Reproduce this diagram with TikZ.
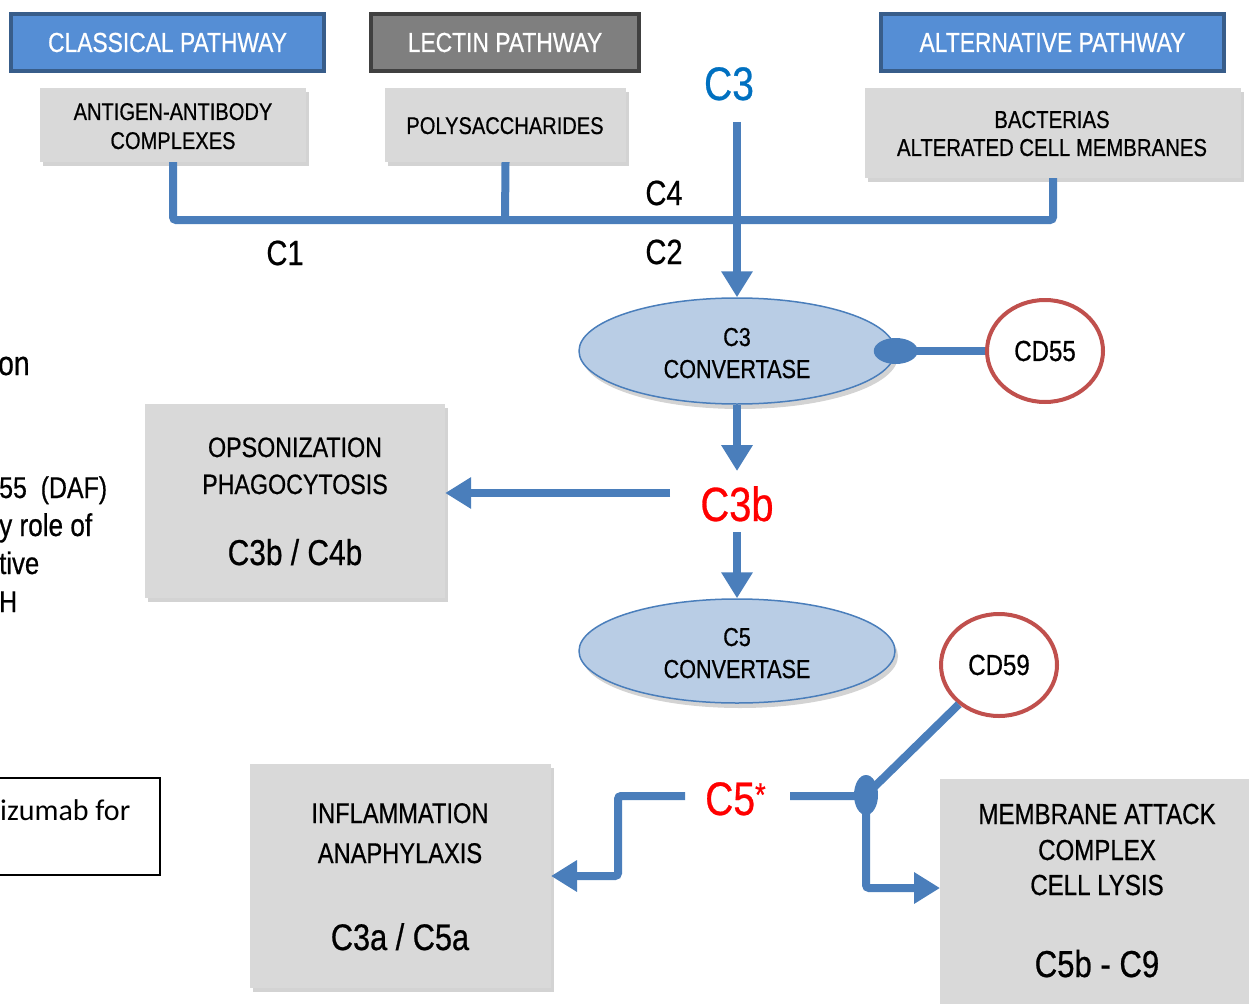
\documentclass[tikz,border=0pt]{standalone}
\usepackage{fontspec}
\setmainfont{Liberation Sans}[FakeStretch=0.83, UprightFeatures={FakeBold=0.6}]
\newfontfamily\calibfont{Carlito}
\usetikzlibrary{arrows.meta,shapes.geometric,shadows,calc}
\definecolor{bl}{HTML}{4A7EBB}
\definecolor{pbfill}{HTML}{558ED5}
\definecolor{pbdraw}{HTML}{385D8A}
\definecolor{lgfill}{HTML}{7F7F7F}
\definecolor{lgdraw}{HTML}{404040}
\definecolor{gfill}{HTML}{D9D9D9}
\definecolor{efill}{HTML}{B9CDE5}
\definecolor{redc}{HTML}{C0504D}
\definecolor{c3blue}{HTML}{0070C0}
\newcommand\fsz[1]{\fontsize{#1}{#1}\selectfont}
\begin{document}
\begin{tikzpicture}[x=1pt,y=-1pt,
 bline/.style={draw=bl, line width=8pt, rounded corners=3pt},
 arr/.style={bline, -{Triangle[width=30pt,length=26pt]}},
 pathbox/.style={rectangle, line width=4pt, minimum height=57pt, text=white, font=\fsz{27.5}, inner sep=0pt},
 greybox/.style={rectangle, fill=gfill, inner sep=0pt, drop shadow={shadow xshift=3pt, shadow yshift=-4pt, opacity=0.35}},
 conv/.style={ellipse, fill=efill, draw=bl, line width=1.5pt, minimum width=316pt, minimum height=106pt, inner sep=0pt, drop shadow={shadow xshift=3pt,shadow yshift=-5pt,opacity=0.35}},
 inhib/.style={ellipse, draw=redc, line width=4pt, fill=white, minimum width=116pt, minimum height=102pt, inner sep=0pt, font=\fsz{29}},
 txt/.style={anchor=base, inner sep=0pt},
]
\useasboundingbox (0,0) rectangle (1249,1003);
\clip (0,0) rectangle (1249,1003);

% pathway headers
\node[pathbox, fill=pbfill, draw=pbdraw, minimum width=313pt] (classical) at (167.5,42.5) {CLASSICAL PATHWAY};
\node[pathbox, fill=lgfill, draw=lgdraw, minimum width=268pt] (lectin) at (505,42.5) {LECTIN PATHWAY};
\node[pathbox, fill=pbfill, draw=pbdraw, minimum width=343pt] (alternative) at (1052.5,42.5) {ALTERNATIVE PATHWAY};

% trigger boxes
\node[greybox, minimum width=266pt, minimum height=74pt] (antigen) at (173,125) {};
\node[txt, font=\fsz{24.2}] (antigenA) at (173,120) {ANTIGEN-ANTIBODY};
\node[txt, font=\fsz{24.2}] (antigenB) at (173,149) {COMPLEXES};
\node[greybox, minimum width=241pt, minimum height=74pt] (poly) at (505.5,125) {};
\node[txt, font=\fsz{24.2}] (polyT) at (505,134) {POLYSACCHARIDES};
\node[greybox, minimum width=376pt, minimum height=90pt] (bact) at (1053,133) {};
\node[txt, font=\fsz{24.5}] (bactA) at (1052,128) {BACTERIAS};
\node[txt, font=\fsz{24.5}] (bactB) at (1052,156) {ALTERATED CELL MEMBRANES};

% labels
\node[txt, font=\fsz{47}, text=c3blue] (c3) at (729,100) {C3};
\coordinate (c3s) at (737,122);
\coordinate (jC) at (737,220);
\coordinate (jL) at (505,220);
\node[txt, font=\fsz{35}] (c4) at (664,205) {C4};
\node[txt, font=\fsz{35}] (c2) at (664,264) {C2};
\node[txt, font=\fsz{35}] (c1) at (285,265) {C1};

% C3 convertase
\node[conv] (conv3) at (737,351) {};
\node[txt, font=\fsz{26}] (conv3A) at (737,346) {C3};
\node[txt, font=\fsz{26}] (conv3B) at (737,378) {CONVERTASE};
\node[inhib] (cd55) at (1045,351) {CD55};

% C3b
\node[txt, font=\fsz{48}, text=red] (c3b) at (737,521) {C3b};
\coordinate (c3bN) at (737,471);
\coordinate (c3bS) at (737,532);
\coordinate (c3bW) at (670,493);

% opsonization
\node[greybox, minimum width=300pt, minimum height=194pt] (opso) at (295,501) {};
\node[txt, font=\fsz{28}] (opsoA) at (295,457) {OPSONIZATION};
\node[txt, font=\fsz{28}] (opsoB) at (295,494) {PHAGOCYTOSIS};
\node[txt, font=\fsz{36}] (opsoC) at (295,565) {C3b / C4b};

% C5 convertase
\node[conv, minimum height=104pt] (conv5) at (737,651) {};
\node[txt, font=\fsz{26}] (conv5A) at (737,646) {C5};
\node[txt, font=\fsz{26}] (conv5B) at (737,678) {CONVERTASE};
\node[inhib] (cd59) at (999,665) {CD59};

% C5
\node[txt, anchor=base west, font=\fsz{47}, text=red] (c5) at (705,815) {C5\textsuperscript{*}};
\coordinate (c5E) at (790,796);
\coordinate (c5W) at (685,796);
\coordinate (mj) at (866,795);
\coordinate (macIn) at (940,888);
\coordinate (kneeB) at (618,876);
\coordinate (inflIn) at (551,876);

% effect boxes
\node[greybox, minimum width=301pt, minimum height=224pt] (infl) at (400.5,876) {};
\node[txt, font=\fsz{28.5}] (inflA) at (400,823) {INFLAMMATION};
\node[txt, font=\fsz{28.5}] (inflB) at (400,863) {ANAPHYLAXIS};
\node[txt, font=\fsz{37}] (inflC) at (400,950) {C3a / C5a};

\node[greybox, minimum width=320pt, minimum height=236pt] (mac) at (1100,897) {};
\node[txt, font=\fsz{29}] (macA) at (1097,824) {MEMBRANE ATTACK};
\node[txt, font=\fsz{29}] (macB) at (1097,860) {COMPLEX};
\node[txt, font=\fsz{29}] (macC) at (1097,895) {CELL LYSIS};
\node[txt, font=\fsz{37.5}] (macD) at (1097,977) {C5b - C9};

% clipped side texts
\node[txt, anchor=base west, font=\fsz{34}] (t1) at (-2,375) {on};
\node[txt, anchor=base west, font=\fsz{30}] (t2) at (-1,498) {55\ \ (DAF)};
\node[txt, anchor=base west, font=\fsz{31.5}] (t3) at (-1,536) {y role of};
\node[txt, anchor=base west, font=\fsz{31}] (t4) at (-1,574) {tive};
\node[txt, anchor=base west, font=\fsz{30}] (t5) at (-1,612) {H};
\node[draw, line width=2pt, minimum width=170pt, minimum height=97pt, inner sep=0pt] (eculbox) at (75,826.5) {};
\node[txt, anchor=base west, font=\calibfont\fsz{30}] (ecul) at (0,820) {izumab for};

% connectors
\draw[bline] (antigen.south) |- (jC);
\draw[bline] (poly.south) -- (jL);
\draw[bline] (bact.south) |- (jC);
\draw[arr] (c3s) -- (conv3.north);
\draw[bline] (cd55.west) -- (conv3.east);
\fill[bl] (conv3.east) ellipse [x radius=22pt, y radius=13pt];
\draw[arr] (conv3.south) -- (c3bN);
\draw[arr] (c3bS) -- (conv5.north);
\draw[arr] (c3bW) -- (c3bW -| opso.east);
\draw[bline] (mj) -- (cd59);
\draw[arr] (c5E) -| (mj |- macIn) -- (macIn);
\fill[bl] (mj) ellipse [x radius=12pt, y radius=20pt];
\draw[arr] (c5W) -| (kneeB) -- (inflIn);
\end{tikzpicture}
\end{document}
